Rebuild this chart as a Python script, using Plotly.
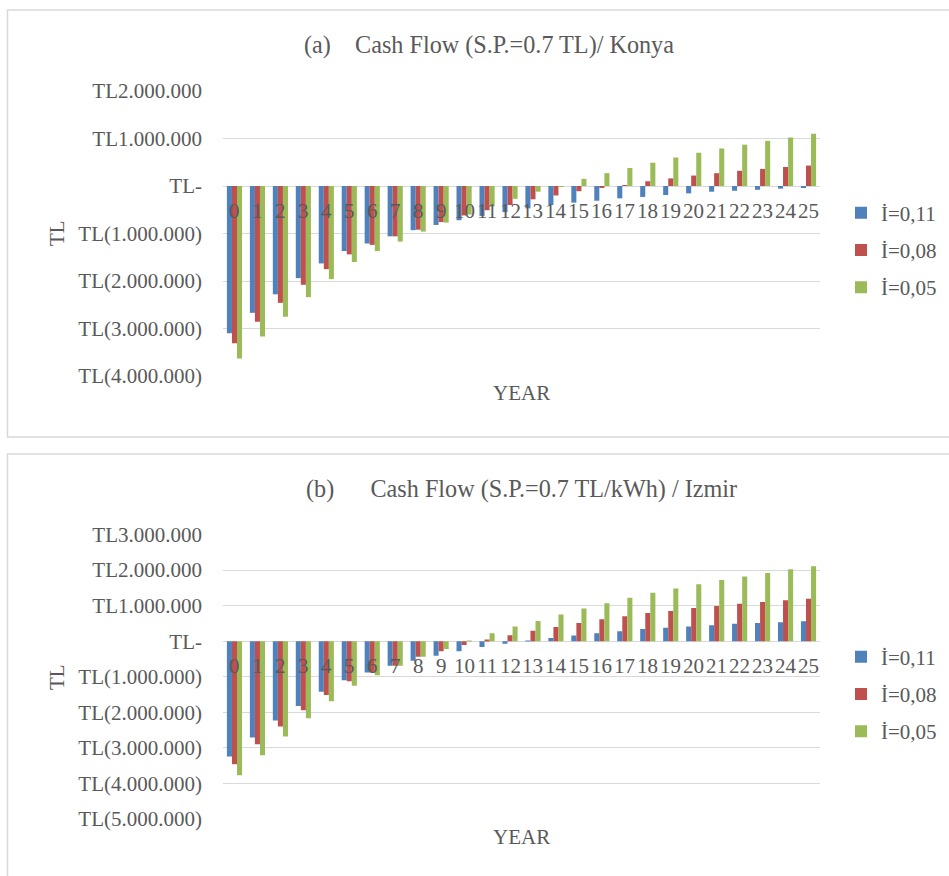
import plotly.graph_objects as go

# ---------------- data ----------------
years = list(range(26))

konya_i011 = [-3.10, -2.67, -2.28, -1.94, -1.63, -1.37, -1.21, -1.06, -0.93, -0.82,
              -0.72, -0.63, -0.55, -0.47, -0.40, -0.35, -0.31, -0.26, -0.23, -0.19,
              -0.155, -0.12, -0.10, -0.08, -0.056, -0.035]
konya_i008 = [-3.31, -2.86, -2.46, -2.08, -1.75, -1.44, -1.24, -1.06, -0.92, -0.76,
              -0.62, -0.51, -0.40, -0.28, -0.20, -0.11, -0.03, 0.02, 0.10, 0.16,
              0.22, 0.27, 0.32, 0.36, 0.40, 0.43]
konya_i005 = [-3.63, -3.17, -2.75, -2.34, -1.96, -1.60, -1.37, -1.17, -0.96, -0.77,
              -0.60, -0.43, -0.27, -0.12, -0.02, 0.15, 0.27, 0.38, 0.49, 0.60,
              0.70, 0.79, 0.87, 0.95, 1.02, 1.10]

izmir_i011 = [-3.24, -2.71, -2.23, -1.82, -1.42, -1.10, -0.88, -0.69, -0.55, -0.41,
              -0.28, -0.16, -0.075, 0.005, 0.09, 0.16, 0.22, 0.28, 0.34, 0.38,
              0.41, 0.45, 0.49, 0.51, 0.53, 0.56]
izmir_i008 = [-3.46, -2.90, -2.40, -1.94, -1.51, -1.13, -0.88, -0.69, -0.44, -0.28,
              -0.11, 0.02, 0.17, 0.29, 0.40, 0.51, 0.62, 0.70, 0.79, 0.85,
              0.93, 0.99, 1.05, 1.10, 1.15, 1.19]
izmir_i005 = [-3.77, -3.21, -2.68, -2.17, -1.69, -1.25, -0.96, -0.69, -0.44, -0.22,
              0.01, 0.22, 0.41, 0.57, 0.75, 0.92, 1.07, 1.22, 1.36, 1.48,
              1.60, 1.72, 1.82, 1.92, 2.02, 2.11]

series_names = ["İ=0,11", "İ=0,08", "İ=0,05"]
series_colors = ["#4F81BD", "#C0504D", "#9BBB59"]

top_tickvals = [2e6, 1e6, 0, -1e6, -2e6, -3e6, -4e6]
top_ticktext = ["TL2.000.000", "TL1.000.000", "TL-", "TL(1.000.000)",
                "TL(2.000.000)", "TL(3.000.000)", "TL(4.000.000)"]
bot_tickvals = [3e6, 2e6, 1e6, 0, -1e6, -2e6, -3e6, -4e6, -5e6]
bot_ticktext = ["TL3.000.000", "TL2.000.000", "TL1.000.000", "TL-", "TL(1.000.000)",
                "TL(2.000.000)", "TL(3.000.000)", "TL(4.000.000)", "TL(5.000.000)"]

title_top = "(a)" + "\u00a0" * 4 + "Cash Flow (S.P.=0.7 TL)/ Konya"
title_bot = "(b)" + "\u00a0" * 6 + "Cash Flow (S.P.=0.7 TL/kWh) / Izmir"

# ---------------- figure ----------------
W, H = 949, 876
FONT = "Liberation Serif"
TXT = "#595959"
GRID = "#D9D9D9"


def py(pix):
    return (H - pix) / H


def px(pix):
    return pix / W


fig = go.Figure()

top_series = [konya_i011, konya_i008, konya_i005]
bot_series = [izmir_i011, izmir_i008, izmir_i005]

for i, (name, col) in enumerate(zip(series_names, series_colors)):
    fig.add_trace(go.Bar(
        x=years, y=[v * 1e6 for v in top_series[i]], name=name,
        marker=dict(color=col, line=dict(width=0)),
        xaxis="x", yaxis="y", legend="legend", legendgroup="t" + str(i),
        offsetgroup=str(i)))
for i, (name, col) in enumerate(zip(series_names, series_colors)):
    fig.add_trace(go.Bar(
        x=years, y=[v * 1e6 for v in bot_series[i]], name=name,
        marker=dict(color=col, line=dict(width=0)),
        xaxis="x2", yaxis="y2", legend="legend2", legendgroup="b" + str(i),
        offsetgroup=str(i)))

xdom = [px(223), px(820)]
axis_font = dict(family=FONT, size=21, color=TXT)

fig.update_layout(
    width=W, height=H,
    margin=dict(l=0, r=0, t=0, b=0, autoexpand=False),
    paper_bgcolor="white", plot_bgcolor="white",
    barmode="group", bargap=0.34, bargroupgap=0,
    font=dict(family=FONT, color=TXT),
    xaxis=dict(domain=xdom, anchor="y", range=[-0.5, 25.5], automargin=False,
               showticklabels=False, showgrid=False, zeroline=False, showline=False),
    yaxis=dict(domain=[py(376), py(91)], anchor="x", range=[-4e6, 2e6], automargin=False,
               tickvals=top_tickvals, ticktext=top_ticktext, tickfont=axis_font,
               showgrid=True, gridcolor=GRID, gridwidth=1.3,
               zeroline=True, zerolinecolor=GRID, zerolinewidth=1.3,
               ticks="", ticklabelstandoff=20, showline=False),
    xaxis2=dict(domain=xdom, anchor="y2", range=[-0.5, 25.5], automargin=False,
                showticklabels=False, showgrid=False, zeroline=False, showline=False),
    yaxis2=dict(domain=[py(819), py(534.5)], anchor="x2", range=[-5e6, 3e6],
                automargin=False,
                tickvals=bot_tickvals, ticktext=bot_ticktext, tickfont=axis_font,
                showgrid=True, gridcolor=GRID, gridwidth=1.3,
                zeroline=True, zerolinecolor=GRID, zerolinewidth=1.3,
                ticks="", ticklabelstandoff=20, showline=False),
    legend=dict(x=px(841), y=py(250), xanchor="left", yanchor="middle",
                font=dict(family=FONT, size=21, color=TXT), tracegroupgap=7,
                bgcolor="rgba(0,0,0,0)", itemclick=False),
    legend2=dict(x=px(841), y=py(694), xanchor="left", yanchor="middle",
                 font=dict(family=FONT, size=21, color=TXT), tracegroupgap=7,
                 bgcolor="rgba(0,0,0,0)", itemclick=False),
    showlegend=True,
)

# chart frames
fig.add_shape(type="rect", xref="paper", yref="paper",
              x0=px(7.5), x1=1.05, y0=py(437), y1=py(10),
              line=dict(color=GRID, width=1.5), layer="below")
fig.add_shape(type="rect", xref="paper", yref="paper",
              x0=px(7.5), x1=1.05, y0=-0.05, y1=py(454),
              line=dict(color=GRID, width=1.5), layer="below")

ann = []
# category labels next to the zero line
for xr, yr in (("x", "y"), ("x2", "y2")):
    for yv in years:
        ann.append(dict(x=yv, y=0, xref=xr, yref=yr, text=str(yv), showarrow=False,
                        xanchor="center", yanchor="top", yshift=-11,
                        font=dict(family=FONT, size=21, color=TXT)))

# titles
ann.append(dict(x=px(302), y=py(45), xref="paper", yref="paper", text=title_top,
                showarrow=False, xanchor="left", yanchor="middle",
                font=dict(family=FONT, size=24.2, color=TXT)))
ann.append(dict(x=px(304), y=py(489), xref="paper", yref="paper", text=title_bot,
                showarrow=False, xanchor="left", yanchor="middle",
                font=dict(family=FONT, size=24.2, color=TXT)))
# axis titles
for yc in (233, 677):
    ann.append(dict(x=px(57), y=py(yc), xref="paper", yref="paper", text="TL",
                    showarrow=False, textangle=-90, xanchor="center", yanchor="middle",
                    font=dict(family=FONT, size=21, color=TXT)))
for yc in (393, 837):
    ann.append(dict(x=px(521), y=py(yc), xref="paper", yref="paper", text="YEAR",
                    showarrow=False, xanchor="center", yanchor="middle",
                    font=dict(family=FONT, size=21, color=TXT)))

fig.update_layout(annotations=ann)

fig.write_html(
    "out.html",
    config={"displayModeBar": False},
    post_script=(
        "document.body.style.margin='0';"
        "document.documentElement.style.overflow='hidden';"
        "document.body.style.overflow='hidden';"
        "var g=document.getElementById('{plot_id}');"
        "g.style.position='fixed';g.style.top='0px';g.style.left='0px';"
    ),
)
